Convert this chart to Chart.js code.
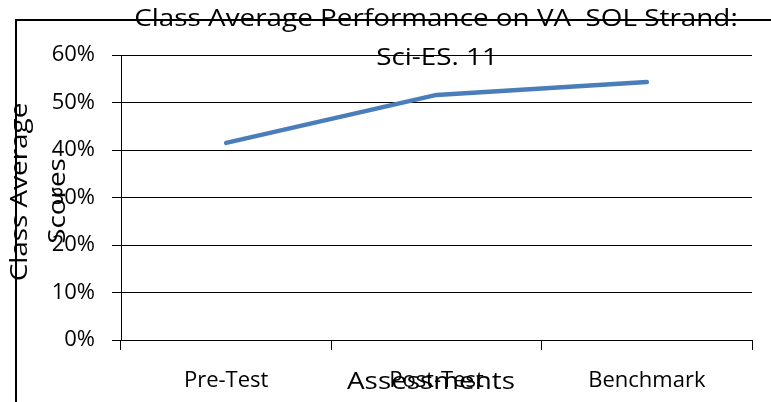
<!DOCTYPE html>
<html>
<head>
<meta charset="utf-8">
<script src="https://cdn.jsdelivr.net/npm/chart.js@4"></script>
<style>
  html, body { margin: 0; padding: 0; background: #fff; }
  #chart { display: block; }
</style>
</head>
<body>
<canvas id="chart" width="771" height="402"></canvas>
<script>
// data
const assessments = ['Pre-Test', 'Post-Test', 'Benchmark'];
const classAverage = [0.415, 0.516, 0.543];
const yTicks = [0, 0.1, 0.2, 0.3, 0.4, 0.5, 0.6];

const titleLines = ['Class Average Performance on VA  SOL Strand:', 'Sci-ES. 11'];
const yTitleLines = ['Class Average', 'Scores'];
const xTitle = 'Assessments';

const FONT = '"Open Sans", "DejaVu Sans", sans-serif';
const STRETCH = 1.16; // the reference title text is a bit wide for its height

function wideText(ctx, text, x, y, rot) {
  ctx.save();
  ctx.translate(x, y);
  if (rot) ctx.rotate(rot);
  ctx.scale(STRETCH, 1);
  ctx.fillText(text, 0, 0);
  ctx.restore();
}

// titles + the outer frame are drawn by hand since they overlap the plot
const overlayText = {
  id: 'overlayText',
  afterDraw(chart) {
    const ctx = chart.ctx;
    ctx.save();
    ctx.fillStyle = '#000';
    ctx.textAlign = 'center';
    ctx.textBaseline = 'alphabetic';
    ctx.font = '24px ' + FONT;

    wideText(ctx, titleLines[0], 436, 26);
    wideText(ctx, titleLines[1], 437, 65);
    wideText(ctx, xTitle, 431, 389);

    // rotated y title, two lines
    wideText(ctx, yTitleLines[0], 27, 192, -Math.PI / 2);
    wideText(ctx, yTitleLines[1], 65, 201, -Math.PI / 2);

    // frame (left + top edges)
    ctx.strokeStyle = '#000';
    ctx.lineWidth = 2;
    ctx.beginPath();
    ctx.moveTo(16, 402);
    ctx.lineTo(16, 20);
    ctx.lineTo(771, 20);
    ctx.stroke();
    ctx.restore();
  }
};

new Chart(document.getElementById('chart'), {
  type: 'line',
  data: {
    labels: assessments,
    datasets: [{
      label: 'Class Average',
      data: classAverage,
      borderColor: '#4a7ebb',
      borderWidth: 4.5,
      borderCapStyle: 'round',
      borderJoinStyle: 'round',
      pointRadius: 0,
      tension: 0,
      fill: false
    }]
  },
  options: {
    responsive: false,
    animation: false,
    devicePixelRatio: 1,
    layout: { padding: { left: 0, right: 19, top: 55, bottom: 0 } },
    plugins: {
      legend: { display: false },
      title: { display: false },
      tooltip: { enabled: false }
    },
    scales: {
      x: {
        offset: true,
        grid: { drawOnChartArea: false, offset: true, tickLength: 10, color: '#000' },
        border: { color: '#000', width: 1 },
        ticks: { color: '#000', font: { family: FONT, size: 22 }, padding: 18, maxRotation: 0 },
        afterFit: s => { s.height = 62; }
      },
      y: {
        min: 0,
        max: 0.6,
        afterBuildTicks: s => { s.ticks = yTicks.map(v => ({ value: v })); },
        grid: { color: '#000', tickLength: 9 },
        border: { color: '#000', width: 1 },
        ticks: {
          color: '#000',
          font: { family: FONT, size: 22 },
          padding: 17,
          callback: v => Math.round(v * 100) + '%'
        },
        afterFit: s => { s.width = 121; }
      }
    }
  },
  plugins: [overlayText]
});
</script>
</body>
</html>
